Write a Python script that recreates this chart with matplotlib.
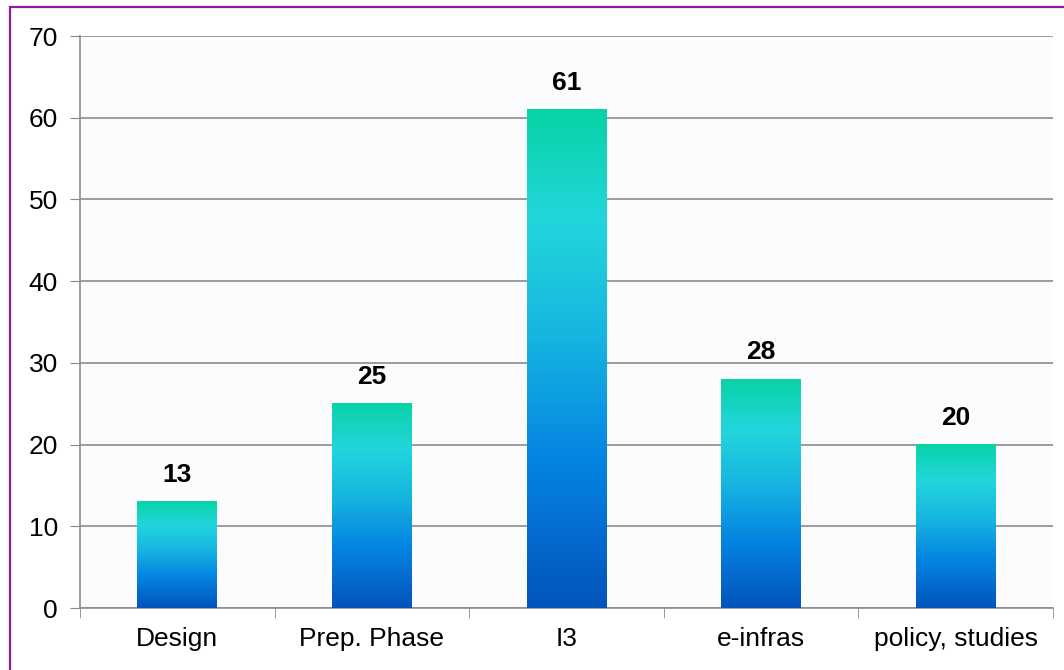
import numpy as np
import matplotlib.pyplot as plt
from matplotlib.colors import LinearSegmentedColormap
from matplotlib.patches import Rectangle

plt.rcParams['font.family'] = ['Liberation Sans', 'DejaVu Sans']

categories = ['Design', 'Prep. Phase', 'I3', 'e-infras', 'policy, studies']
values = [13, 25, 61, 28, 20]
y_ticks = [0, 10, 20, 30, 40, 50, 60, 70]

# bottom -> top colours of the bar gradient
grad = LinearSegmentedColormap.from_list(
    'bar', [(0.0, '#0254BC'), (0.3, '#0585E2'), (0.55, '#17B6E0'),
            (0.78, '#22D6DC'), (1.0, '#08D3A6')])

fig = plt.figure(figsize=(10.64, 6.70), dpi=100)
fig.patch.set_facecolor('white')
fig.patches.append(Rectangle((10 / 1064, -0.1), 1.2, 1.1 - 7 / 670,
                             transform=fig.transFigure, fill=False,
                             edgecolor='#8E1A9A', linewidth=1.6))

ax = fig.add_axes([80 / 1064, 1 - 608 / 670, 973 / 1064, 572 / 670])
ax.set_facecolor('#FCFCFE')

x = np.arange(len(categories))
width = 0.41
img = np.linspace(0, 1, 256).reshape(-1, 1)
for xi, v in zip(x, values):
    ax.imshow(img, cmap=grad, origin='lower', aspect='auto',
              extent=(xi - width / 2, xi + width / 2, 0, v), zorder=3)
    ax.text(xi, v + 1.8, str(v), ha='center', va='bottom',
            fontsize=19, fontweight='bold', zorder=4)

ax.set_xlim(-0.5, len(categories) - 0.5)
ax.set_ylim(0, 70)
ax.set_yticks(y_ticks)
ax.tick_params(axis='y', labelsize=19, length=7, color='#888888', pad=9)
ax.set_xticks(x)
ax.set_xticklabels(categories, fontsize=19)
ax.tick_params(axis='x', length=0, pad=14)
ax.set_xticks(np.arange(len(categories) + 1) - 0.5, minor=True)
ax.tick_params(axis='x', which='minor', length=7, color='#888888')

ax.grid(axis='y', color='#8C8C8C', linewidth=1.2, zorder=1)
ax.set_axisbelow(True)
for s in ['top', 'right']:
    ax.spines[s].set_visible(False)
for s in ['left', 'bottom']:
    ax.spines[s].set_color('#8C8C8C')
    ax.spines[s].set_linewidth(1.2)

fig.savefig('out.png', dpi=100)
